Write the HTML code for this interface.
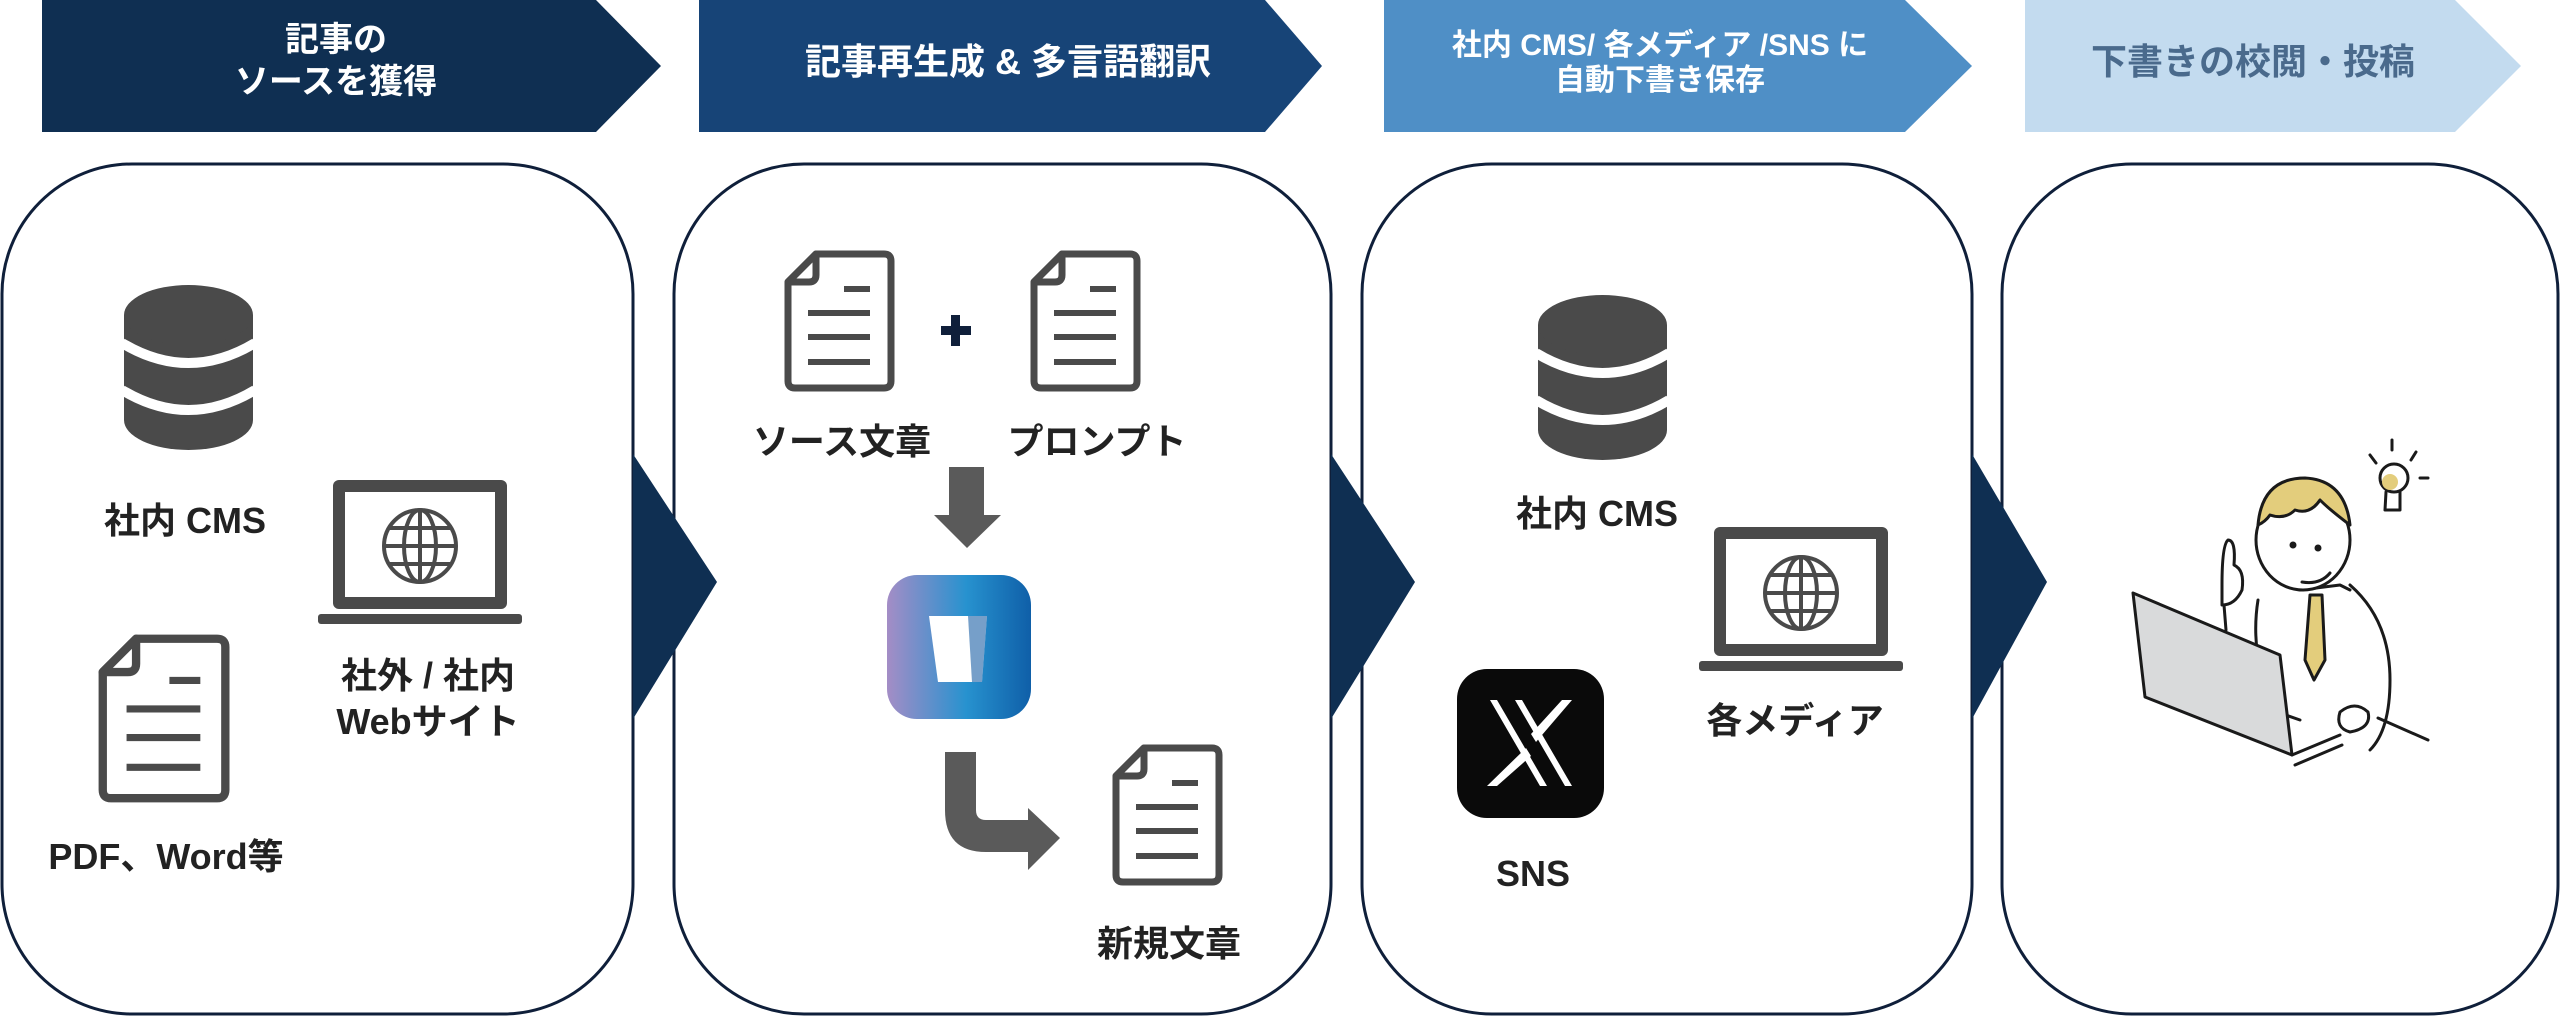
<!DOCTYPE html>
<html><head><meta charset="utf-8"><style>
html,body{margin:0;padding:0;background:#fff;}
svg{display:block;}
text{font-family:"Liberation Sans","Noto Sans CJK JP",sans-serif;font-weight:bold;}
</style></head><body>
<svg width="2560" height="1016" viewBox="0 0 2560 1016" xmlns="http://www.w3.org/2000/svg">
<defs>
<g id="doc">
<path d="M32,4 L100,4 Q107,4 107,11 L107,131 Q107,138 100,138 L11,138 Q4,138 4,131 L4,32 Z" fill="#fff" stroke="#4a4a4a" stroke-width="7" stroke-linejoin="round"/>
<path d="M4,32 L32,4 L32,25 Q32,32 25,32 Z" fill="#fff" stroke="#4a4a4a" stroke-width="7" stroke-linejoin="round"/>
<g stroke="#4a4a4a" stroke-width="6"><line x1="60" y1="39" x2="86" y2="39"/><line x1="24" y1="63" x2="86" y2="63"/><line x1="24" y1="87" x2="86" y2="87"/><line x1="24" y1="112" x2="86" y2="112"/></g>
</g>
<g id="db">
<rect x="0" y="30" width="129" height="105" fill="#4a4a4a"/>
<ellipse cx="64.5" cy="30" rx="64.5" ry="30" fill="#4a4a4a"/>
<ellipse cx="64.5" cy="135" rx="64.5" ry="30" fill="#4a4a4a"/>
<path d="M-2,58 Q64.5,98 131,58" fill="none" stroke="#fff" stroke-width="10"/>
<path d="M-2,105 Q64.5,145 131,105" fill="none" stroke="#fff" stroke-width="10"/>
</g>
<g id="laptop">
<rect x="15" y="0" width="174" height="129" rx="6" fill="#4a4a4a"/>
<rect x="27" y="12" width="150" height="105" fill="#fff"/>
<rect x="0" y="134" width="204" height="10" rx="3" fill="#4a4a4a"/>
<g fill="none" stroke="#4a4a4a" stroke-width="4">
<circle cx="102" cy="66" r="36"/>
<ellipse cx="102" cy="66" rx="16" ry="36"/>
<line x1="102" y1="30" x2="102" y2="102"/>
<line x1="66" y1="66" x2="138" y2="66"/>
<line x1="71" y1="48" x2="133" y2="48"/>
<line x1="71" y1="84" x2="133" y2="84"/>
</g>
</g>
<linearGradient id="app" x1="0" y1="0" x2="1" y2="0">
<stop offset="0" stop-color="#a48dc6"/><stop offset="0.55" stop-color="#2792cf"/><stop offset="1" stop-color="#0f5fa8"/>
</linearGradient>
</defs>

<!-- banners -->
<polygon points="42,0 596,0 661,66 596,132 42,132" fill="#0f2f52"/>
<polygon points="699,0 1265,0 1322,66 1265,132 699,132" fill="#174477"/>
<polygon points="1384,0 1905,0 1972,66 1905,132 1384,132" fill="#4f8fc6"/>
<polygon points="2025,0 2455,0 2521,66 2455,132 2025,132" fill="#c3dbef"/>
<text x="336" y="51" font-size="34" fill="#fff" text-anchor="middle">記事の</text>
<text x="336" y="93" font-size="34" fill="#fff" text-anchor="middle">ソースを獲得</text>
<text x="1008" y="74" font-size="36" fill="#fff" text-anchor="middle">記事再生成 &amp; 多言語翻訳</text>
<text x="1660" y="55" font-size="30" fill="#fff" text-anchor="middle">社内 CMS/ 各メディア /SNS に</text>
<text x="1660" y="90" font-size="30" fill="#fff" text-anchor="middle">自動下書き保存</text>
<text x="2253" y="74" font-size="36" fill="#4a6a8c" text-anchor="middle">下書きの校閲・投稿</text>

<!-- panels -->
<g fill="#fff" stroke="#0f1f3a" stroke-width="3">
<rect x="2" y="164" width="631" height="850" rx="130" ry="130"/>
<rect x="674" y="164" width="657" height="850" rx="130" ry="130"/>
<rect x="1362" y="164" width="610" height="850" rx="130" ry="130"/>
<rect x="2002" y="164" width="556" height="850" rx="130" ry="130"/>
</g>
<g fill="#0f2f52">
<polygon points="633,454 717,582 633,719"/>
<polygon points="1331,454 1415,582 1331,719"/>
<polygon points="1972,454 2047,582 1972,719"/>
</g>

<!-- panel 1 -->
<use href="#db" transform="translate(124,285)"/>
<text x="185" y="533" font-size="36" fill="#222" text-anchor="middle">社内 CMS</text>
<use href="#laptop" transform="translate(318,480)"/>
<text x="428" y="688" font-size="36" fill="#222" text-anchor="middle">社外 / 社内</text>
<text x="428" y="734" font-size="36" fill="#222" text-anchor="middle">Webサイト</text>
<use href="#doc" transform="translate(98,634) scale(1.19)"/>
<text x="166" y="869" font-size="36" fill="#222" text-anchor="middle">PDF、Word等</text>

<!-- panel 2 -->
<use href="#doc" transform="translate(784,250)"/>
<use href="#doc" transform="translate(1030,250)"/>
<rect x="941" y="326" width="30" height="9" fill="#0f1f3a"/>
<rect x="951" y="315" width="9" height="31" fill="#0f1f3a"/>
<text x="842" y="454" font-size="36" fill="#222" text-anchor="middle">ソース文章</text>
<text x="1097" y="454" font-size="36" fill="#222" text-anchor="middle">プロンプト</text>
<polygon points="949,467 984,467 984,515 1001,515 967,548 934,515 949,515" fill="#5a5a5a"/>
<rect x="887" y="575" width="144" height="144" rx="30" fill="url(#app)"/>
<polygon points="929,616 987,616 982,682 938,682" fill="#fff"/>
<polygon points="968,616 987,616 982,682 972,682" fill="#1a5fa5" opacity="0.6"/>
<path d="M945,752 L976,752 L976,810 Q976,820 986,820 L1028,820 L1028,808 L1060,838 L1028,870 L1028,852 L986,852 Q945,852 945,810 Z" fill="#5a5a5a"/>
<use href="#doc" transform="translate(1112,744)"/>
<text x="1169" y="956" font-size="36" fill="#222" text-anchor="middle">新規文章</text>

<!-- panel 3 -->
<use href="#db" transform="translate(1538,295)"/>
<text x="1597" y="526" font-size="36" fill="#222" text-anchor="middle">社内 CMS</text>
<use href="#laptop" transform="translate(1699,527)"/>
<text x="1795" y="733" font-size="36" fill="#222" text-anchor="middle">各メディア</text>
<rect x="1457" y="669" width="147" height="149" rx="30" fill="#0a0a0a"/>
<polygon points="1490,700 1522,700 1572,786 1540,786" fill="#fff"/>
<polygon points="1497,700 1515,700 1565,786 1547,786" fill="#0a0a0a"/>
<polygon points="1562,700 1572,700 1536,742 1531,734" fill="#fff"/>
<polygon points="1526,748 1531,756 1497,786 1487,786" fill="#fff"/>
<text x="1533" y="886" font-size="36" fill="#222" text-anchor="middle">SNS</text>

<!-- panel 4 illustration -->
<g stroke="#1a1a1a" stroke-width="3" stroke-linecap="round" stroke-linejoin="round" fill="none">
<path d="M2258,600 Q2250,650 2270,700" />
<path d="M2350,585 Q2390,620 2390,680 Q2390,730 2370,750"/>
<path d="M2300,590 L2340,585 L2350,590"/>
<path d="M2260,706 L2300,720" />
<path d="M2378,718 L2428,740"/>
<ellipse cx="2303" cy="540" rx="47" ry="50" fill="#fff"/>
<path d="M2258,525 Q2262,478 2305,478 Q2345,480 2350,525 Q2330,510 2320,500 Q2310,515 2295,510 Q2285,520 2270,515 Q2265,522 2258,525 Z" fill="#e3cd7c"/>
<path d="M2330,573 Q2320,585 2302,582"/>
<circle cx="2293" cy="545" r="2" fill="#1a1a1a"/>
<circle cx="2318" cy="548" r="2" fill="#1a1a1a"/>
<path d="M2310,595 L2322,595 L2325,660 L2314,680 L2305,660 Z" fill="#e3cd7c"/>
<path d="M2222,585 Q2222,545 2228,540 Q2236,540 2234,565 Q2245,570 2242,590 Q2235,605 2222,605 Z" fill="#fff"/>
<path d="M2224,605 L2226,630"/>
<polygon points="2133,593 2280,655 2292,755 2145,697" fill="#d9dadb"/>
<path d="M2292,755 L2340,735 M2295,765 L2342,745"/>
<path d="M2340,712 Q2355,700 2368,712 Q2372,728 2350,732 Q2335,728 2340,712 Z" fill="#fff"/>
<circle cx="2394" cy="478" r="14" fill="#fff"/>
<path d="M2386,492 L2385,510 L2400,510 L2400,492"/>
<path d="M2392,440 L2392,450 M2370,455 L2376,463 M2416,452 L2411,460 M2420,478 L2428,478"/>
</g>
<circle cx="2390" cy="482" r="8" fill="#e3cd7c"/>
</svg>
</body></html>
